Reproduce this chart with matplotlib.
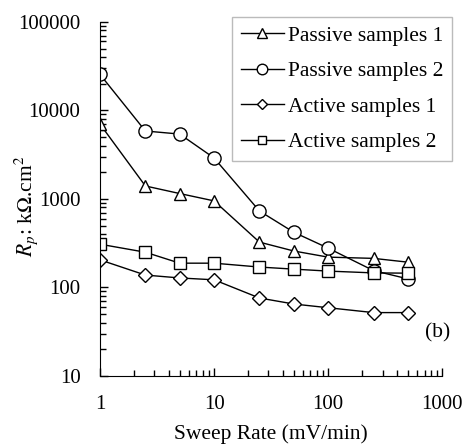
import numpy as np
import matplotlib
matplotlib.use('Agg')
import matplotlib.pyplot as plt
from matplotlib.ticker import LogLocator, NullFormatter, FixedLocator, FixedFormatter

plt.rcParams['font.family'] = ['Liberation Serif', 'DejaVu Serif']
plt.rcParams['mathtext.fontset'] = 'stix'

# sweep rates (mV/min)
sweep = [1, 2.5, 5, 10, 25, 50, 100, 250, 500]

# polarisation resistance (kOhm.cm2)
passive1 = [7000, 1400, 1150, 950, 325, 258, 220, 213, 193]
passive2 = [25500, 5850, 5400, 2900, 730, 420, 278, 155, 125]
active1 = [205, 138, 128, 122, 76, 65, 59, 52, 52]
active2 = [308, 250, 188, 188, 170, 161, 153, 146, 145]

labels = ['Passive samples 1', 'Passive samples 2', 'Active samples 1', 'Active samples 2']
markers = ['^', 'o', 'D', 's']
sizes = [8.5, 9.5, 7, 8]

fig = plt.figure(figsize=(4.65, 4.46), dpi=100)
ax = fig.add_axes([0.215, 0.157, 0.736, 0.794])

for ys, lab, m, ms in zip([passive1, passive2, active1, active2], labels, markers, sizes):
    ax.plot(sweep, ys, marker=m, color='black', lw=1.0, ms=ms,
            mfc='white', mec='black', mew=1.0, label=lab)

ax.set_xscale('log')
ax.set_yscale('log')
ax.set_xlim(1, 1000)
ax.set_ylim(10, 100000)

ax.yaxis.set_major_locator(FixedLocator([10, 100, 1000, 10000, 100000]))
ax.yaxis.set_major_formatter(FixedFormatter(['10', '100', '1000', '10000', '100000']))
ax.xaxis.set_major_locator(FixedLocator([1, 10, 100, 1000]))
ax.xaxis.set_major_formatter(FixedFormatter(['1', '10', '100', '1000']))
ax.xaxis.set_minor_locator(LogLocator(base=10, subs=np.arange(2, 10)))
ax.yaxis.set_minor_locator(LogLocator(base=10, subs=np.arange(2, 10)))
ax.xaxis.set_minor_formatter(NullFormatter())
ax.yaxis.set_minor_formatter(NullFormatter())

ax.spines['top'].set_visible(False)
ax.spines['right'].set_visible(False)
ax.tick_params(which='both', direction='in', labelsize=15, width=1, color='black')
ax.tick_params(which='major', length=6, pad=14)
ax.tick_params(which='minor', length=4.5)

ax.set_xlabel('Sweep Rate (mV/min)', fontsize=15.5)
ax.set_ylabel(r'$R_p$: k$\Omega$.cm$^2$', fontsize=15.5)
ax.xaxis.set_label_coords(0.5, -0.135)
ax.yaxis.set_label_coords(-0.175, 0.48)

ax.text(1.023, 0.121, '(b)', transform=ax.transAxes, fontsize=15.5, ha='right', va='center')

leg = ax.legend(loc='upper right', bbox_to_anchor=(0.972, 0.962),
                bbox_transform=fig.transFigure, fontsize=15.5, frameon=True,
                fancybox=False, edgecolor='#aaaaaa', handlelength=2.0,
                handletextpad=0.2, borderpad=0.4, labelspacing=0.72,
                borderaxespad=0, markerscale=0.8)
leg.get_frame().set_linewidth(1.0)

fig.savefig('out.png', dpi=100)
